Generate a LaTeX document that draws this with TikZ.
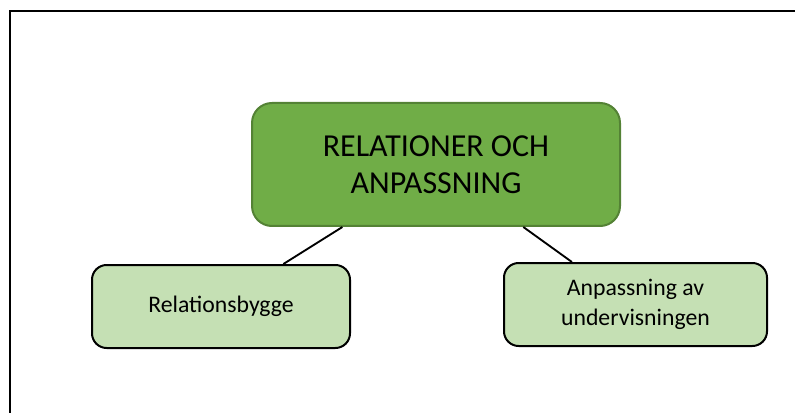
\documentclass[tikz,border=0pt]{standalone}
\usepackage{fontspec}
\setmainfont{Carlito}
\usetikzlibrary{calc}
\definecolor{maingreen}{HTML}{70AD47}
\definecolor{mainborder}{HTML}{548235}
\definecolor{lightgreen}{HTML}{C5E0B4}
\begin{document}
\begin{tikzpicture}[x=0.75pt,y=-0.75pt,
  mainbox/.style={draw=mainborder, fill=maingreen, line width=1.5pt, rounded corners=15pt,
    minimum width=276pt, minimum height=92.25pt, align=center, inner sep=0pt,
    font=\fontsize{24}{27.5}\selectfont},
  childbox/.style={draw=black, fill=lightgreen, line width=1.5pt, rounded corners=11pt,
    minimum height=62.25pt, align=center, inner sep=0pt,
    font=\fontsize{17.8}{22.5}\selectfont},
  link/.style={draw=black, line width=1.4pt}]
\useasboundingbox (0,0) rectangle (795,413);
\draw[line width=1.8pt] (10,413) -- (10,11) -- (795,11);
\node[mainbox] (main) at (436,164.5) {RELATIONER OCH\\ANPASSNING};
\node[childbox, minimum width=193.5pt] (rel) at (221,306.5) {Relationsbygge};
\node[childbox, minimum width=197.25pt] (anp) at (635.5,304.5) {Anpassning av\\undervisningen};
\path[link] ($(main.south west)!0.247!(main.south east)$) coordinate (m1)
  -- ($(rel.north west)!0.74!(rel.north east)$) coordinate (r1);
\path[link] ($(main.south west)!0.736!(main.south east)$) coordinate (m2)
  -- ($(anp.north west)!0.26!(anp.north east)$) coordinate (a1);
\end{tikzpicture}
\end{document}
